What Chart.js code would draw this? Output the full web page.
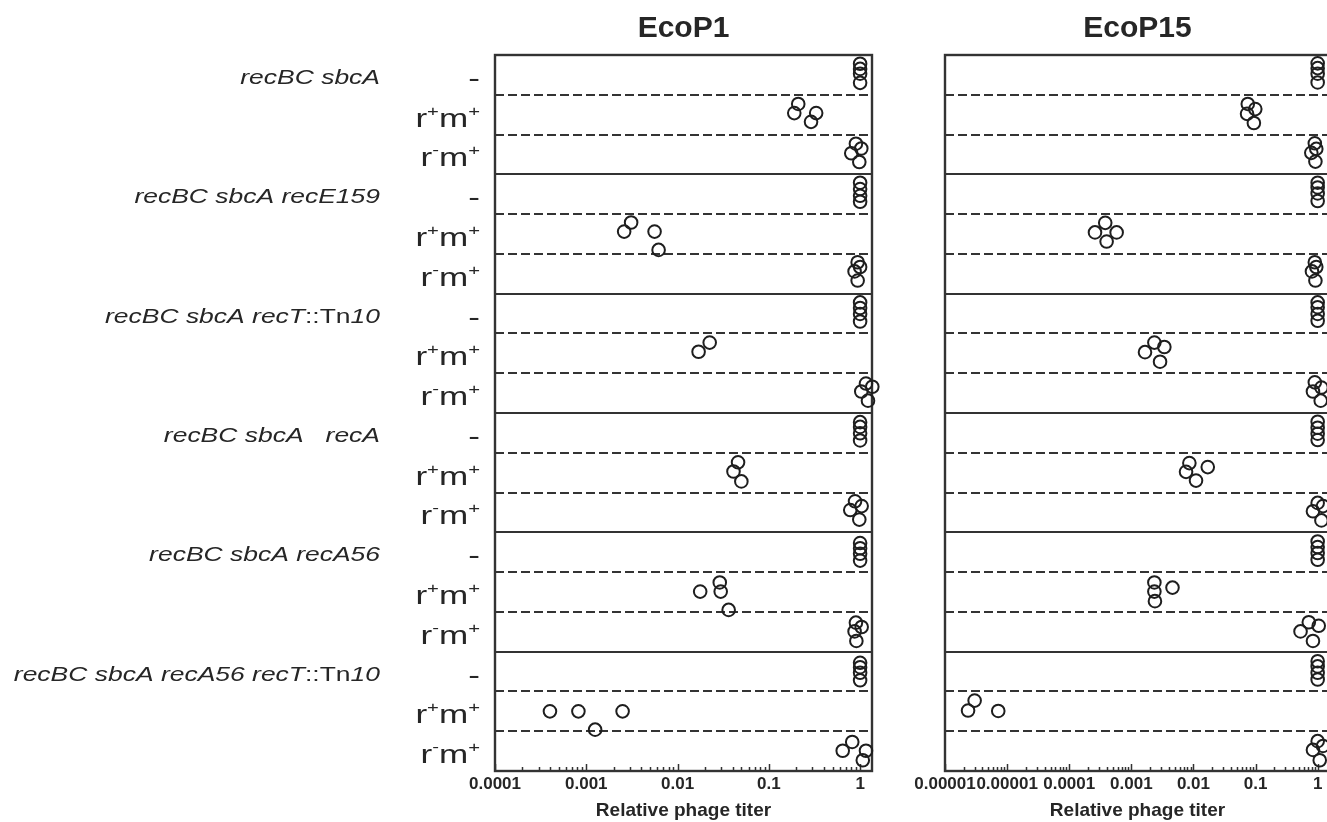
<!DOCTYPE html>
<html>
<head>
<meta charset="utf-8">
<script src="https://cdn.jsdelivr.net/npm/chart.js@4.4.0/dist/chart.umd.min.js"></script>
<style>
  html, body { margin: 0; padding: 0; background: #fff; overflow: hidden; width: 1327px; height: 822px; }
  #left { position: absolute; left: 0; top: 0; }
  #right { position: absolute; left: 900px; top: 0; }
</style>
</head>
<body>
<canvas id="left" width="885" height="822"></canvas>
<canvas id="right" width="440" height="822"></canvas>
<script>
// rows: 6 strains x 3 phage types, top to bottom
var strains = ['recBC sbcA', 'recBC sbcA recE159', 'recBC sbcA recT::Tn10',
  'recBC sbcA   recA', 'recBC sbcA recA56', 'recBC sbcA recA56 recT::Tn10'];
var phageTypes = ['-', 'r⁺m⁺', 'r⁻m⁺'];

var ecoP1Ticks = ['0.0001', '0.001', '0.01', '0.1', '1'];
var ecoP15Ticks = ['0.00001', '0.00001', '0.0001', '0.001', '0.01', '0.1', '1'];

// relative phage titer, one list per row
var ecoP1Titer = [
  [1, 1, 1, 1], [0.21, 0.19, 0.33, 0.29], [0.90, 1.03, 0.80, 0.98],
  [1, 1, 1, 1], [0.0031, 0.0026, 0.0056, 0.0062], [0.94, 1.0, 0.87, 0.94],
  [1, 1, 1, 1], [0.0225, 0.017], [1.16, 1.36, 1.03, 1.22],
  [1, 1, 1, 1], [0.046, 0.041, 0.050], [0.88, 1.04, 0.78, 0.98],
  [1, 1, 1, 1], [0.029, 0.0177, 0.0297, 0.0363], [0.90, 1.04, 0.87, 0.91],
  [1, 1, 1, 1], [0.0004, 0.00082, 0.0025, 0.00125], [0.82, 0.645, 1.16, 1.07]
];
// vertical scatter of the circles inside each row (row units)
var ecoP1Jitter = [
  [-0.28, -0.15, -0.03, 0.2], [-0.27, -0.04, -0.04, 0.18], [-0.27, -0.15, -0.03, 0.19],
  [-0.29, -0.13, 0.04, 0.19], [-0.29, -0.06, -0.06, 0.4], [-0.29, -0.17, -0.06, 0.17],
  [-0.28, -0.14, 0.01, 0.2], [-0.27, -0.04], [-0.24, -0.16, -0.04, 0.19],
  [-0.27, -0.15, 0.01, 0.19], [-0.26, -0.03, 0.22], [-0.28, -0.16, -0.06, 0.18],
  [-0.23, -0.1, 0.04, 0.21], [-0.24, -0.01, -0.01, 0.45], [-0.23, -0.12, -0.01, 0.23],
  [-0.22, -0.11, 0.03, 0.22], [0, 0, 0, 0.46], [-0.23, -0.01, -0.01, 0.23]
];

var ecoP15Titer = [
  [1, 1, 1, 1], [0.075, 0.099, 0.073, 0.094], [0.90, 0.95, 0.79, 0.92],
  [1, 1, 1, 1], [0.00038, 0.00026, 0.00058, 0.0004], [0.90, 0.95, 0.81, 0.92],
  [1, 1, 1, 1], [0.00235, 0.0034, 0.00166, 0.0029], [0.90, 1.15, 0.84, 1.12],
  [1, 1, 1, 1], [0.0086, 0.017, 0.0076, 0.011], [1.0, 1.22, 0.84, 1.15],
  [1, 1, 1, 1], [0.00235, 0.0046, 0.00235, 0.0024], [0.72, 1.04, 0.53, 0.84],
  [1, 1, 1, 1], [0.0000030, 0.00000235, 0.0000072], [1.0, 1.22, 0.84, 1.08]
];
var ecoP15Jitter = [
  [-0.29, -0.17, -0.03, 0.19], [-0.27, -0.14, -0.02, 0.21], [-0.28, -0.14, -0.04, 0.18],
  [-0.29, -0.17, -0.02, 0.17], [-0.28, -0.04, -0.04, 0.19], [-0.29, -0.17, -0.06, 0.17],
  [-0.28, -0.16, 0.01, 0.18], [-0.27, -0.16, -0.03, 0.21], [-0.27, -0.14, -0.04, 0.19],
  [-0.28, -0.13, 0.02, 0.18], [-0.24, -0.14, -0.02, 0.2], [-0.24, -0.16, -0.03, 0.2],
  [-0.27, -0.13, 0.02, 0.19], [-0.24, -0.11, -0.01, 0.23], [-0.24, -0.15, -0.01, 0.23],
  [-0.26, -0.13, 0.03, 0.2], [-0.27, -0.02, -0.01], [-0.25, -0.13, -0.03, 0.23]
];

var rowCount = 18;
var FONT = '"Liberation Sans", Arial, sans-serif';
var INK = '#262626';

function buildPoints(titer, jitter) {
  var pts = [];
  for (var r = 0; r < titer.length; r++) {
    for (var k = 0; k < titer[r].length; k++) {
      pts.push({ x: titer[r][k], y: r + 0.5 + jitter[r][k] });
    }
  }
  return pts;
}

// draws text pieces right-aligned, stretched horizontally like the original figure
function drawSegments(ctx, segs, xRight, yBase, sx) {
  var total = 0;
  segs.forEach(function (s) { ctx.font = s.font; s.w = ctx.measureText(s.text).width; total += s.w; });
  ctx.save();
  ctx.translate(xRight - total * sx, yBase);
  ctx.scale(sx, 1);
  ctx.textAlign = 'left';
  ctx.textBaseline = 'alphabetic';
  var x = 0;
  segs.forEach(function (s) { ctx.font = s.font; ctx.fillText(s.text, x, s.dy || 0); x += s.w; });
  ctx.restore();
}

// row grid, frame and inward log ticks
var framePlugin = {
  id: 'frame',
  beforeDatasetsDraw: function (chart) {
    var ctx = chart.ctx, a = chart.chartArea, ys = chart.scales.y, xs = chart.scales.x;
    ctx.save();
    ctx.strokeStyle = '#333';
    for (var i = 1; i < rowCount; i++) {
      var y = Math.round(ys.getPixelForValue(i));
      ctx.lineWidth = 2;
      ctx.setLineDash(i % 3 === 0 ? [] : [9, 4]);
      ctx.beginPath();
      ctx.moveTo(a.left, y);
      ctx.lineTo(a.right, y);
      ctx.stroke();
    }
    ctx.setLineDash([]);
    ctx.lineWidth = 1.5;
    xs.ticks.forEach(function (t) {
      var x = Math.round(xs.getPixelForValue(t.value)) + 0.5;
      var len = t.major ? 7 : 4;
      ctx.beginPath();
      ctx.moveTo(x, a.bottom);
      ctx.lineTo(x, a.bottom - len);
      ctx.stroke();
    });
    ctx.lineWidth = 2.4;
    ctx.strokeRect(a.left, a.top, a.right - a.left, a.bottom - a.top);
    ctx.restore();
  }
};

// strain names and phage type labels at the left of EcoP1
var rowLabelPlugin = {
  id: 'rowLabels',
  afterDraw: function (chart) {
    var ctx = chart.ctx, ys = chart.scales.y;
    ctx.save();
    ctx.fillStyle = INK;
    for (var r = 0; r < rowCount; r++) {
      var yc = ys.getPixelForValue(r + 0.5);
      var segs = [];
      Array.from(phageTypes[r % 3]).forEach(function (c) {
        if (c === '⁺') segs.push({ text: '+', font: '15px ' + FONT, dy: -11 });
        else if (c === '⁻') segs.push({ text: '-', font: '15px ' + FONT, dy: -11 });
        else segs.push({ text: c, font: '26px ' + FONT });
      });
      drawSegments(ctx, segs, 480, yc + 12, 1.35);
    }
    strains.forEach(function (name, g) {
      var yc = ys.getPixelForValue(g * 3 + 0.5);
      var parts = name.split('::Tn');
      var segs = [{ text: parts[0], font: 'italic 21px ' + FONT }];
      if (parts.length > 1) {
        segs.push({ text: '::Tn', font: '21px ' + FONT });
        segs.push({ text: parts[1], font: 'italic 21px ' + FONT });
      }
      drawSegments(ctx, segs, 380, yc + 9, 1.26);
    });
    ctx.restore();
  }
};

function makeChart(id, title, titer, jitter, tickLabels, minExp, maxVal, yWidth, padRight, plugins) {
  return new Chart(document.getElementById(id), {
    type: 'scatter',
    data: {
      datasets: [{
        data: buildPoints(titer, jitter),
        pointStyle: 'circle',
        pointRadius: 6.3,
        pointHoverRadius: 6.3,
        borderWidth: 2,
        borderColor: '#1e1e1e',
        backgroundColor: 'rgba(0,0,0,0)',
        clip: false
      }]
    },
    options: {
      responsive: false,
      animation: false,
      layout: { padding: { left: 0, right: padRight, top: 0, bottom: 0 } },
      plugins: {
        legend: { display: false },
        tooltip: { enabled: false },
        title: {
          display: true,
          text: title,
          fullSize: false,
          color: INK,
          font: { family: FONT, size: 30, weight: 'bold' },
          padding: { top: 11, bottom: 8 }
        }
      },
      scales: {
        x: {
          type: 'logarithmic',
          position: 'bottom',
          min: Math.pow(10, minExp),
          max: maxVal,
          grid: { display: false, drawTicks: false },
          border: { display: false },
          afterBuildTicks: function (scale) {
            var ticks = [];
            for (var e = minExp; e <= 0; e++) {
              for (var m = 1; m <= 9; m++) {
                var v = m * Math.pow(10, e);
                if (v <= maxVal) ticks.push({ value: v, major: m === 1 });
              }
            }
            scale.ticks = ticks;
          },
          afterFit: function (scale) { scale.height = 51; },
          ticks: {
            autoSkip: false,
            maxRotation: 0,
            minRotation: 0,
            padding: 3,
            color: INK,
            font: { family: FONT, size: 17, weight: 'bold' },
            callback: function (value, index, ticks) {
              return ticks[index].major ? tickLabels[Math.round(Math.log10(value)) - minExp] : '';
            }
          },
          title: {
            display: true,
            text: 'Relative phage titer',
            color: INK,
            font: { family: FONT, size: 19, weight: 'bold' },
            padding: { top: 0, bottom: 0 }
          }
        },
        y: {
          type: 'linear',
          reverse: true,
          min: 0,
          max: rowCount,
          grid: { display: false, drawTicks: false },
          border: { display: false },
          ticks: { display: false },
          afterFit: function (scale) { scale.width = yWidth; }
        }
      }
    },
    plugins: plugins
  });
}

makeChart('left', 'EcoP1', ecoP1Titer, ecoP1Jitter, ecoP1Ticks, -4, 1.35, 495, 13,
  [framePlugin, rowLabelPlugin]);
makeChart('right', 'EcoP15', ecoP15Titer, ecoP15Jitter, ecoP15Ticks, -6, 1.58, 45, 10,
  [framePlugin]);
</script>
</body>
</html>
